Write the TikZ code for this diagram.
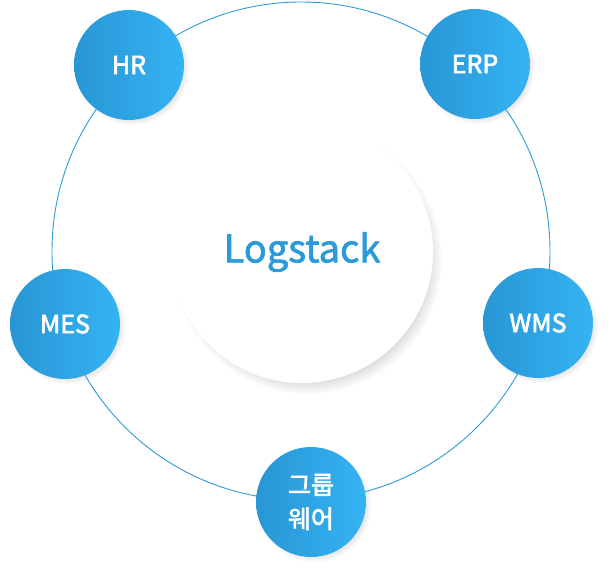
\documentclass[tikz,border=0pt]{standalone}
\usepackage{fontspec}
\setmainfont{Noto Sans CJK KR}
\newfontfamily\satfont{Noto Sans CJK KR}[FakeBold=2.6]
\newfontfamily\hubfont{Noto Sans CJK KR}[FakeBold=1.8]
\usepackage{xcolor}
\usetikzlibrary{shadows, positioning}

\definecolor{ringblue}{HTML}{2B9BD8}
\definecolor{satleft}{HTML}{2996D5}
\definecolor{satright}{HTML}{35B3F3}
\definecolor{hubblue}{HTML}{2A9AD8}

\tikzset{
  satellite/.style={circle, minimum size=110pt, inner sep=0pt, align=center,
    left color=satleft, right color=satright, text=white,
    font=\satfont\fontsize{25}{34}\selectfont,
    circular drop shadow={shadow xshift=3pt, shadow yshift=-3pt, opacity=0.25, shadow scale=1.04}},
  hub/.style={circle, minimum size=262pt, inner sep=0pt, fill=white, text=hubblue,
    font=\hubfont\fontsize{38}{40}\selectfont,
    circular drop shadow={shadow xshift=5pt, shadow yshift=-7pt, opacity=0.4, shadow scale=1.03}}
}

\begin{document}
\begin{tikzpicture}[x=1pt, y=-1pt]
				  \useasboundingbox (0,0) rectangle (613,577);
				  \coordinate (centre) at (301,251);
				  \draw[color=ringblue, line width=0.9pt] (centre) circle (249);
				  \node[hub] (logstack) at (302,252) {Logstack};
				  \node[satellite] (hr) at (129,65) {HR};
				  \node[satellite] (erp) at (475,64) {ERP};
				  \node[satellite] (mes) at (65,324) {MES};
				  \node[satellite] (wms) at (538,323) {WMS};
				  \node[satellite] (groupware) at (311,502) {그룹\\웨어};
				\end{tikzpicture}
\end{document}
